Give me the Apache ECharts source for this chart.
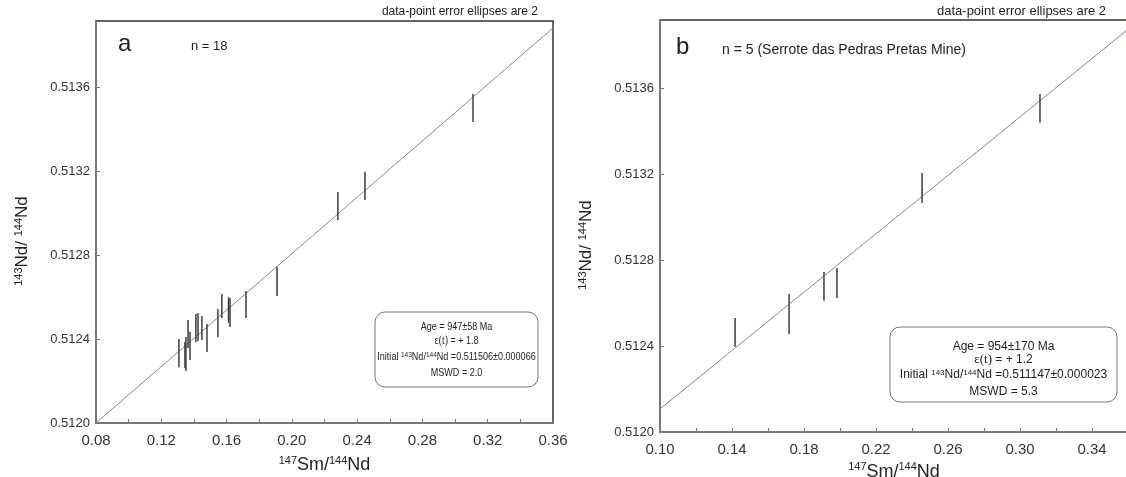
<!DOCTYPE html>
<html><head><meta charset="utf-8">
<script src="https://cdn.jsdelivr.net/npm/echarts@6/dist/echarts.min.js"></script>
<style>html,body{margin:0;padding:0;background:#fff}#c{width:1126px;height:477px}</style>
</head><body><div id="c"></div>
<script>
// Panel a: 147Sm/144Nd, 143Nd/144Nd, 2-sigma error
const aX   = [0.3110,0.2448,0.2282,0.1909,0.1719,0.1621,0.1612,0.1547,0.1571,0.1480,0.1449,0.1425,0.1412,0.1376,0.1364,0.1351,0.1345,0.1308];
const aY   = [0.513500,0.513129,0.513033,0.512674,0.512564,0.512526,0.512538,0.512476,0.512557,0.512405,0.512452,0.512457,0.512452,0.512367,0.512424,0.512329,0.512324,0.512333];
const aErr = [0.000067,0.000067,0.000067,0.000069,0.000064,0.000069,0.000060,0.000067,0.000057,0.000067,0.000057,0.000067,0.000067,0.000067,0.000067,0.000081,0.000062,0.000067];
const aLineX = [0.08, 0.36];
const aLineY = [0.51200, 0.513881];
// Panel b
const bX   = [0.1417,0.1717,0.1911,0.1983,0.2456,0.3111];
const bY   = [0.512463,0.512549,0.512677,0.512693,0.513135,0.513505];
const bErr = [0.000067,0.000093,0.000067,0.000070,0.000070,0.000067];
const bLineX = [0.10, 0.36];
const bLineY = [0.512107, 0.513873];
// axis ranges / tick labels
const aXRange = [0.08, 0.36], bXRange = [0.10, 0.36];
const aYRange = [0.5120, 0.5139143], bYRange = [0.5120, 0.5139163];
const xTickStep = 0.02, xLabelStep = 0.04, yTickStep = 0.0004;

const FONT = '"Liberation Sans", Arial, sans-serif';

function errData(xs, ys, es){ return xs.map((x,i)=>[x, ys[i], es[i]]); }
function lineData(xs, ys){ return xs.map((x,i)=>[x, ys[i]]); }

function renderErr(params, api){
  const x = api.value(0), y = api.value(1), e = api.value(2);
  const p1 = api.coord([x, y - e]), p2 = api.coord([x, y + e]);
  return {type:'line', shape:{x1:p1[0], y1:p1[1], x2:p2[0], y2:p2[1]},
          style:{stroke:'#3c3c3c', lineWidth:1.5}};
}

function xAxis(idx, range){
  return {
    type:'value', gridIndex:idx, min:range[0], max:range[1], interval:xTickStep,
    name:'{sup|147}{b|Sm/}{sup|144}{b|Nd}', nameLocation:'middle', nameGap: idx===0?32:22,
    nameTextStyle:{fontFamily:FONT, color:'#222', rich:{
      b:{fontSize:18, fontFamily:FONT, color:'#222'},
      sup:{fontSize:11, fontFamily:FONT, color:'#222', padding:[0,0,9,0]}}},
    axisLine:{show:true, lineStyle:{color:'#777', width:2}},
    axisTick:{show:true, inside:true, length:4, lineStyle:{color:'#777', width:1}},
    splitLine:{show:false},
    axisLabel:{show:true, fontFamily:FONT, fontSize:15, color:'#333', margin:10, showMaxLabel: idx===0,
      formatter:function(v){
        const k = Math.round((v - range[0]) / xTickStep);
        return (k % 2 === 0) ? v.toFixed(2) : '';
      }}
  };
}
function yAxis(idx, range){
  return {
    type:'value', gridIndex:idx, min:range[0], max:range[1], interval:yTickStep,
    name:'{sup|143}{b|Nd/ }{sup|144}{b|Nd}', nameLocation:'middle', nameGap:64,
    nameTextStyle:{fontFamily:FONT, color:'#222', padding:[0,38,0,0], rich:{
      b:{fontSize:17, fontFamily:FONT, color:'#222'},
      sup:{fontSize:11, fontFamily:FONT, color:'#222', padding:[0,0,8,0]}}},
    axisLine:{show:true, lineStyle:{color:'#777', width:2}},
    axisTick:{show:true, inside:true, length:4, lineStyle:{color:'#777', width:1}},
    splitLine:{show:false},
    axisLabel:{show:true, fontFamily:FONT, fontSize:13, color:'#333', margin:6, showMaxLabel:false,
      formatter:function(v){ return v.toFixed(4); }}
  };
}

const chart = echarts.init(document.getElementById('c'), null, {renderer:'canvas'});
const supRich = (fs)=>({
  n:{fontSize:fs, fontFamily:FONT, fill:'#222'},
  s:{fontSize:Math.round(fs*0.7), fontFamily:FONT, fill:'#222', padding:[0,0,5,0]},
  e:{fontSize:fs+1, fontFamily:'"Liberation Serif", serif', fill:'#222'}
});
function box(x, y, w, h, lines, ys, fs, sx){
  const cx = x + w/2;
  const children = [{type:'rect', shape:{x:x, y:y, width:w, height:h, r:10},
     style:{fill:'#fff', stroke:'#777', lineWidth:1}}];
  lines.forEach((t,i)=>{
    children.push({type:'text', x:cx, y:ys[i], scaleX:sx, style:{text:t, rich:supRich(fs),
      font: fs+'px '+FONT, fill:'#222', align:'center', verticalAlign:'middle'}});
  });
  return {type:'group', children:children, z:10};
}

chart.setOption({
  animation:false,
  backgroundColor:'#fff',
  grid:[
    {left:96, top:21, width:457, height:402, outerBoundsMode:'none', containLabel:false,
     show:true, borderColor:'#333', borderWidth:1.5, backgroundColor:'transparent'},
    {left:660, top:20, width:468, height:412, outerBoundsMode:'none', containLabel:false,
     show:true, borderColor:'#333', borderWidth:1.5, backgroundColor:'transparent'}
  ],
  xAxis:[xAxis(0, aXRange), xAxis(1, bXRange)],
  yAxis:[yAxis(0, aYRange), yAxis(1, bYRange)],
  series:[
    {type:'line', xAxisIndex:0, yAxisIndex:0, data:lineData(aLineX, aLineY), symbol:'none',
     lineStyle:{color:'#7a86c4', width:1}, clip:true, z:2},
    {type:'custom', xAxisIndex:0, yAxisIndex:0, data:errData(aX, aY, aErr), renderItem:renderErr, z:3},
    {type:'line', xAxisIndex:1, yAxisIndex:1, data:lineData(bLineX, bLineY), symbol:'none',
     lineStyle:{color:'#7a86c4', width:1}, clip:true, z:2},
    {type:'custom', xAxisIndex:1, yAxisIndex:1, data:errData(bX, bY, bErr), renderItem:renderErr, z:3}
  ],
  graphic:[
    {type:'text', right:1126-538, top:6, style:{text:'data-point error ellipses are 2', font:'12px '+FONT, fill:'#222'}},
    {type:'text', left:1110-173, top:5, style:{text:'data-point error ellipses are 2', font:'13px '+FONT, fill:'#222'}},
    {type:'text', left:118, top:32, style:{text:'a', font:'24px '+FONT, fill:'#222'}},
    {type:'text', left:191, top:40, style:{text:'n = 18', font:'13px '+FONT, fill:'#222'}},
    {type:'text', left:676, top:35, style:{text:'b', font:'24px '+FONT, fill:'#222'}},
    {type:'text', left:722, top:43, style:{text:'n = 5 (Serrote das Pedras Pretas Mine)', font:'14px '+FONT, fill:'#222'}},
    box(375, 312, 163, 75, [
      '{n|Age = 947±58 Ma}',
      '{e|ε(t)}{n| = + 1.8}',
      '{n|Initial }{s|143}{n|Nd/}{s|144}{n|Nd =0.511506±0.000066}',
      '{n|MSWD = 2.0}'], [327, 341, 357, 373], 11, 0.82),
    box(890, 327, 227, 75, [
      '{n|Age = 954±170 Ma}',
      '{e|ε(t)}{n| = + 1.2}',
      '{n|Initial }{s|143}{n|Nd/}{s|144}{n|Nd =0.511147±0.000023}',
      '{n|MSWD = 5.3}'], [347, 360, 375, 392], 12, 1)
  ]
});
</script></body></html>
